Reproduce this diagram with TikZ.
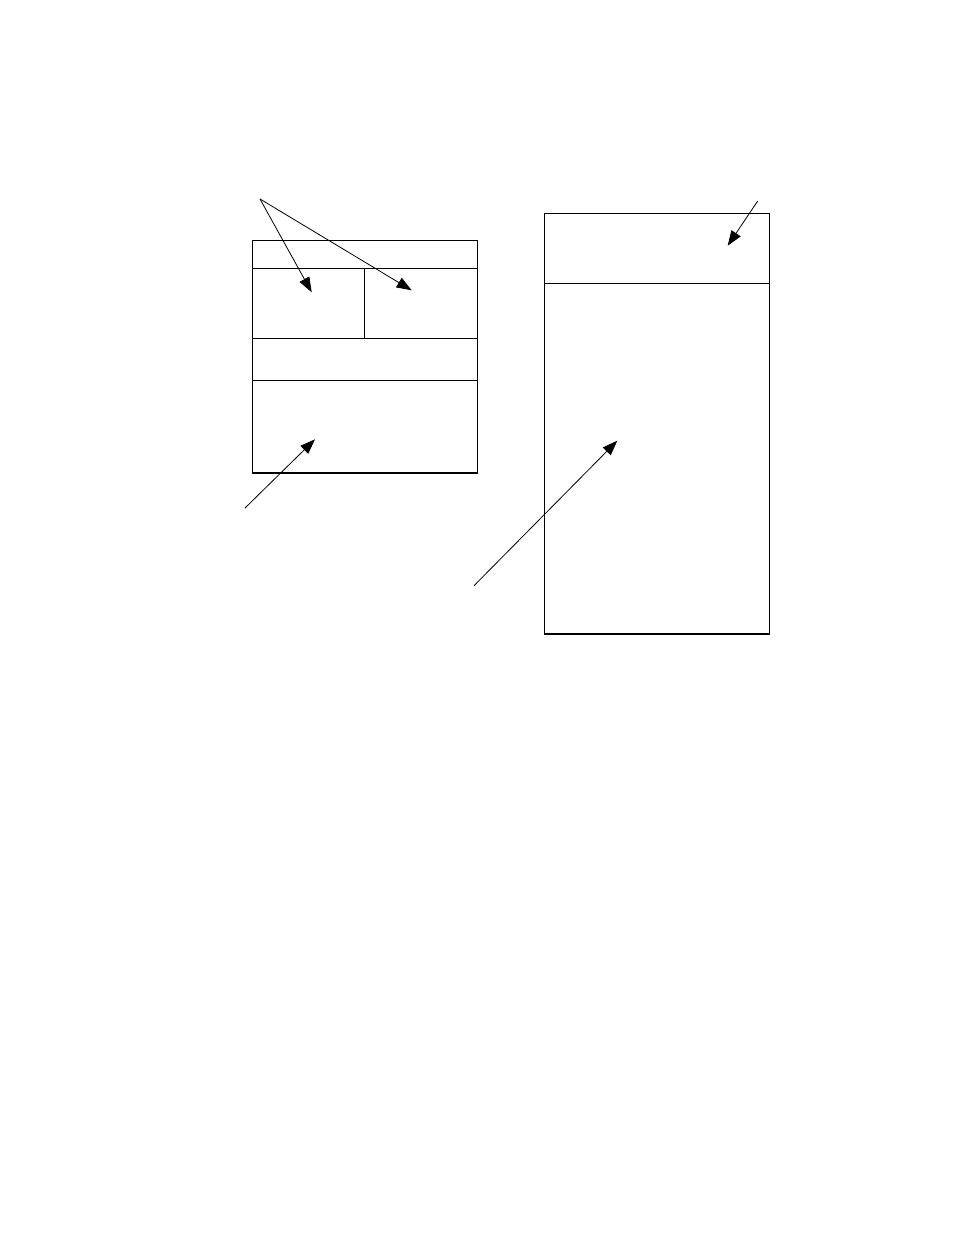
\documentclass[tikz,border=0pt]{standalone}
\usetikzlibrary{arrows.meta}
\begin{document}
\begin{tikzpicture}[x=1pt,y=-1pt,
  boxline/.style={line width=1.4pt,line cap=rect},
  pointer/.style={line width=0.8pt,-{Triangle[length=15pt,width=11pt]}}]
\useasboundingbox (0,0) rectangle (954,1235);
% left panel
\draw[boxline] (252.3,240.3) rectangle (477.3,473);
\draw[boxline] (252.3,268.3) -- (477.3,268.3);
\draw[boxline] (252.3,338.3) -- (477.3,338.3);
\draw[boxline] (252.3,380.3) -- (477.3,380.3);
\draw[boxline] (364.3,268.3) -- (364.3,338.3);
% right panel
\draw[boxline] (544.3,213.3) rectangle (769.3,634);
\draw[boxline] (544.3,283.3) -- (769.3,283.3);
% arrow end points
\coordinate (o1) at (260,199);
\coordinate (t1) at (311.7,292.3);
\coordinate (t2) at (411.7,290.3);
\coordinate (o3) at (245,508);
\coordinate (t3) at (315,439.3);
\coordinate (o4) at (757.7,201);
\coordinate (t4) at (727.7,245.7);
\coordinate (o5) at (474,585.7);
\coordinate (t5) at (617.3,440.7);
\draw[pointer] (o1) -- (t1);
\draw[pointer] (o1) -- (t2);
\draw[pointer] (o3) -- (t3);
\draw[pointer] (o4) -- (t4);
\draw[pointer] (o5) -- (t5);
\end{tikzpicture}
\end{document}
